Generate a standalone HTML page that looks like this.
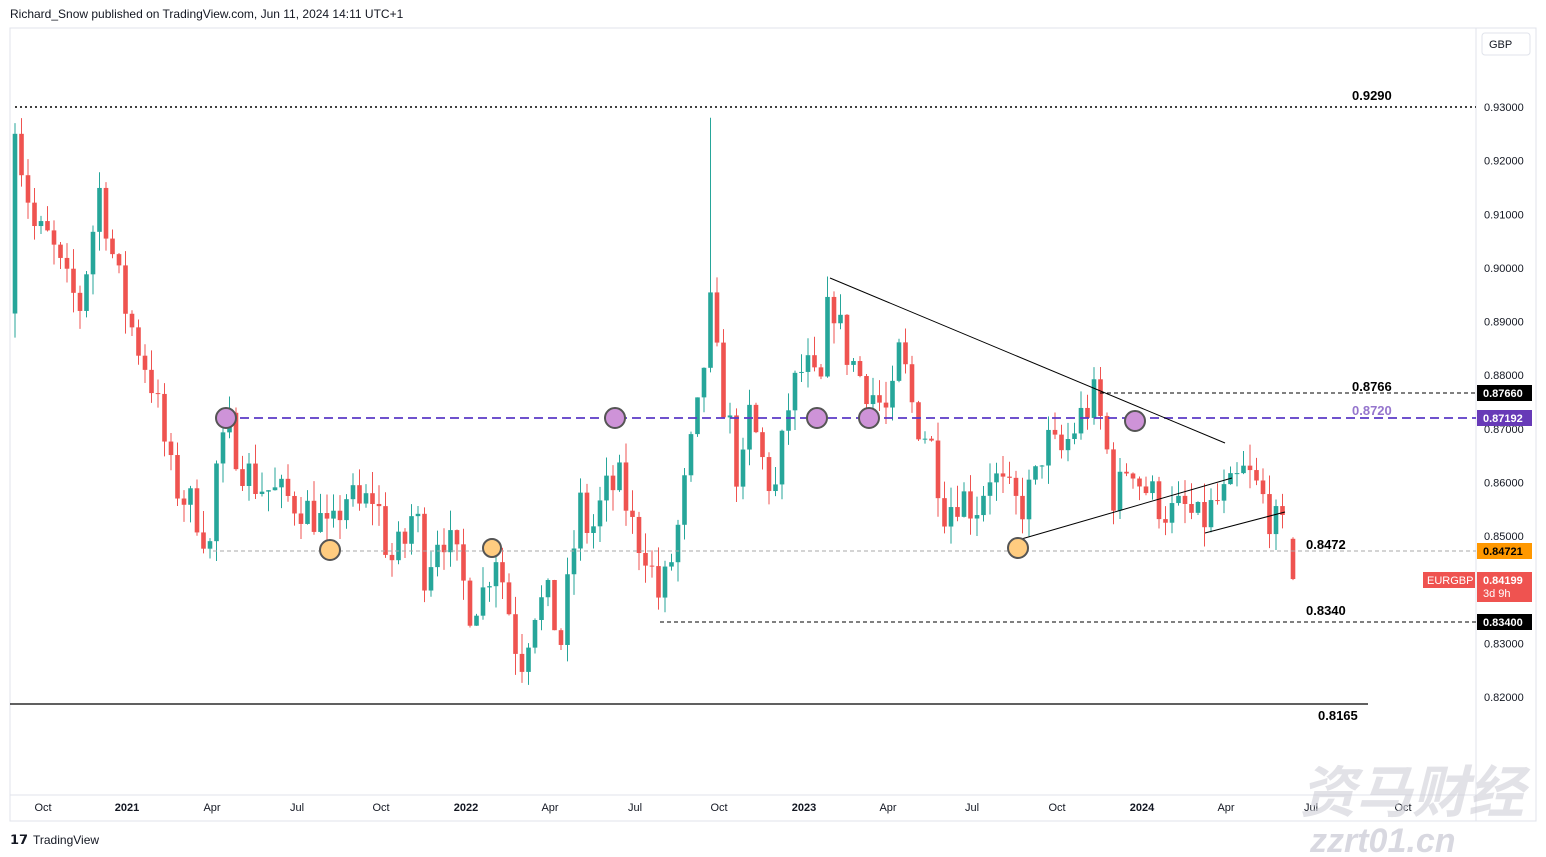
<!DOCTYPE html>
<html><head><meta charset="utf-8">
<style>
html,body{margin:0;padding:0;background:#fff;}
body{width:1546px;height:857px;position:relative;overflow:hidden;font-family:"Liberation Sans",sans-serif;}
svg{position:absolute;left:0;top:0;}
</style></head>
<body>
<svg id="s" width="1546" height="857" xmlns="http://www.w3.org/2000/svg" font-family="Liberation Sans, sans-serif">
<rect x="10" y="28" width="1526" height="793" fill="none" stroke="#e0e3eb"/>
<line x1="1476" y1="28" x2="1476" y2="821" stroke="#e0e3eb"/>
<line x1="10" y1="795" x2="1476" y2="795" stroke="#e0e3eb"/>
<text x="10" y="18" font-size="12" fill="#131722">Richard_Snow published on TradingView.com, Jun 11, 2024 14:11 UTC+1</text>
<g id="ax" font-size="11" fill="#131722"></g>
<g id="c"></g>
<!-- levels -->
<line x1="15" y1="107" x2="1476" y2="107" stroke="#000" stroke-dasharray="2,3" stroke-width="1.5"/>
<text x="1352" y="100" font-size="13" font-weight="bold">0.9290</text>
<line x1="1100" y1="393" x2="1476" y2="393" stroke="#000" stroke-dasharray="4,3"/>
<text x="1352" y="391" font-size="13" font-weight="bold">0.8766</text>
<line x1="226" y1="418" x2="1476" y2="418" stroke="#5b3ac6" stroke-dasharray="9,5" stroke-width="1.8"/>
<text x="1352" y="415" font-size="13" font-weight="bold" fill="#9575cd">0.8720</text>
<line x1="213" y1="551" x2="1476" y2="551" stroke="#aaa" stroke-dasharray="4,3"/>
<text x="1306" y="549" font-size="13" font-weight="bold">0.8472</text>
<line x1="660" y1="622" x2="1476" y2="622" stroke="#000" stroke-dasharray="4,3"/>
<text x="1306" y="615" font-size="13" font-weight="bold">0.8340</text>
<line x1="10" y1="704" x2="1368" y2="704" stroke="#000" stroke-width="1.2"/>
<text x="1318" y="720" font-size="13" font-weight="bold">0.8165</text>
<line x1="830" y1="278" x2="1225" y2="443" stroke="#000"/>
<line x1="1018" y1="540" x2="1232" y2="478" stroke="#000"/>
<line x1="1205" y1="533" x2="1285" y2="512" stroke="#000"/>
<g stroke="#555" stroke-width="2" fill="#ce93d8">
<circle cx="226" cy="418" r="10"/><circle cx="615" cy="418" r="10"/><circle cx="817" cy="418" r="10"/><circle cx="869" cy="418" r="10"/><circle cx="1135" cy="421" r="10"/>
</g>
<g stroke="#555" stroke-width="2" fill="#ffcc80">
<circle cx="330" cy="550" r="10"/><circle cx="492" cy="548" r="9"/><circle cx="1018" cy="548" r="10"/>
</g>
<!-- right labels -->
<rect x="1482" y="33" width="48" height="22" rx="3" fill="#fff" stroke="#e0e3eb"/>
<text x="1489" y="48" font-size="11" fill="#131722">GBP</text>
<rect x="1477" y="385" width="55" height="16" fill="#000"/><text x="1483" y="397" font-size="11" fill="#fff" font-weight="bold">0.87660</text>
<rect x="1477" y="410" width="55" height="16" fill="#673ab7"/><text x="1483" y="422" font-size="11" fill="#fff" font-weight="bold">0.87192</text>
<rect x="1477" y="543" width="55" height="16" fill="#ff9800"/><text x="1483" y="555" font-size="11" fill="#000" font-weight="bold">0.84721</text>
<rect x="1423" y="572" width="52" height="16" fill="#ef5350"/><text x="1427" y="584" font-size="11" fill="#fff">EURGBP</text>
<rect x="1477" y="572" width="55" height="30" fill="#ef5350"/><text x="1483" y="584" font-size="11" fill="#fff" font-weight="bold">0.84199</text><text x="1483" y="597" font-size="11" fill="#fff">3d 9h</text>
<rect x="1477" y="614" width="55" height="16" fill="#000"/><text x="1483" y="626" font-size="11" fill="#fff" font-weight="bold">0.83400</text>
<text x="10" y="844" font-size="13" font-weight="bold" fill="#131722">𝟭𝟳</text>
<text x="33" y="844" font-size="12" fill="#131722">TradingView</text>
<text x="1300" y="812" font-size="56" font-weight="bold" font-style="italic" fill="#d0d0d8" opacity="0.6" font-family="Noto Sans CJK SC, sans-serif">资马财经</text>
<text x="1310" y="852" font-size="34" font-weight="bold" font-style="italic" fill="#c8c8d4" opacity="0.7">zzrt01.cn</text>
</svg>
<script>
(function(){
var NS="http://www.w3.org/2000/svg",s=document.getElementById('s');
function Y(p){return 107+(0.93-p)*5364;}
var ax=document.getElementById('ax');
function t(x,y,str,anchor,bold){var e=document.createElementNS(NS,'text');e.setAttribute('x',x);e.setAttribute('y',y);if(anchor)e.setAttribute('text-anchor',anchor);if(bold)e.setAttribute('font-weight','bold');e.textContent=str;ax.appendChild(e);}
for(var i=0;i<12;i++){var p=0.93-i*0.01;t(1484,Y(p)+4,p.toFixed(5));}
var tl=[[43,"Oct"],[127,"2021",1],[212,"Apr"],[297,"Jul"],[381,"Oct"],[466,"2022",1],[550,"Apr"],[635,"Jul"],[719,"Oct"],[804,"2023",1],[888,"Apr"],[972,"Jul"],[1057,"Oct"],[1142,"2024",1],[1226,"Apr"],[1311,"Jul"],[1403,"Oct"]];
tl.forEach(function(a){t(a[0],811,a[1],'middle',a[2]);});
var k=[[15,0.905],[20,0.921],[35,0.907],[50,0.905],[65,0.897],[80,0.893],[100,0.915],[115,0.900],[125,0.893],[135,0.887],[150,0.880],[160,0.872],[170,0.862],[180,0.858],[195,0.855],[210,0.848],[215,0.862],[230,0.870],[240,0.864],[255,0.860],[275,0.858],[300,0.856],[320,0.853],[330,0.849],[345,0.858],[360,0.855],[375,0.858],[390,0.845],[405,0.849],[415,0.856],[425,0.843],[440,0.852],[455,0.846],[470,0.837],[485,0.840],[495,0.848],[505,0.840],[520,0.826],[535,0.837],[550,0.838],[560,0.829],[570,0.843],[580,0.856],[590,0.850],[605,0.858],[620,0.860],[635,0.850],[645,0.848],[660,0.838],[675,0.848],[690,0.865],[700,0.875],[710,0.893],[720,0.878],[730,0.870],[740,0.858],[750,0.873],[765,0.862],[775,0.858],[790,0.876],[805,0.882],[820,0.876],[830,0.896],[845,0.885],[860,0.880],[875,0.876],[890,0.872],[900,0.885],[915,0.872],[930,0.868],[945,0.855],[960,0.858],[975,0.855],[990,0.862],[1005,0.858],[1020,0.855],[1035,0.860],[1045,0.868],[1060,0.865],[1080,0.872],[1095,0.876],[1105,0.868],[1115,0.856],[1130,0.865],[1140,0.860],[1155,0.857],[1170,0.854],[1185,0.855],[1200,0.852],[1215,0.856],[1230,0.858],[1245,0.862],[1260,0.858],[1275,0.852],[1287,0.8495]];
function interp(x){for(var i=1;i<k.length;i++){if(x<=k[i][0]){var a=k[i-1],b=k[i],f=(x-a[0])/(b[0]-a[0]);return a[1]+f*(b[1]-a[1]);}}return k[k.length-1][1];}
var seed=7;function r(){seed=(seed*16807)%2147483647;return seed/2147483647;}
var g=document.getElementById('c'),prev=0.892;
function cand(x,o,c,h,l){var up=c>=o,col=up?'#26a69a':'#ef5350';
var w=document.createElementNS(NS,'line');w.setAttribute('x1',x);w.setAttribute('x2',x);w.setAttribute('y1',Y(h));w.setAttribute('y2',Y(l));w.setAttribute('stroke',col);g.appendChild(w);
var b=document.createElementNS(NS,'rect');var y1=Y(Math.max(o,c)),y2=Y(Math.min(o,c));b.setAttribute('x',x-2.3);b.setAttribute('width',4.6);b.setAttribute('y',y1);b.setAttribute('height',Math.max(1,y2-y1));b.setAttribute('fill',col);g.appendChild(b);}
for(var x=15;x<=1287;x+=6.5){var c=interp(x)+(r()-0.5)*0.008;var o=prev;
var h=Math.max(o,c)+r()*0.004,l=Math.min(o,c)-r()*0.004;
if(x===15){o=0.8915;c=0.925;h=0.927;l=0.887;}
if(Math.abs(x-713)<3.3){h=0.928;}
cand(x,o,c,h,l);prev=c;}
cand(1293,0.8495,0.842,0.8498,0.8418);
})();
</script>
</body></html>
